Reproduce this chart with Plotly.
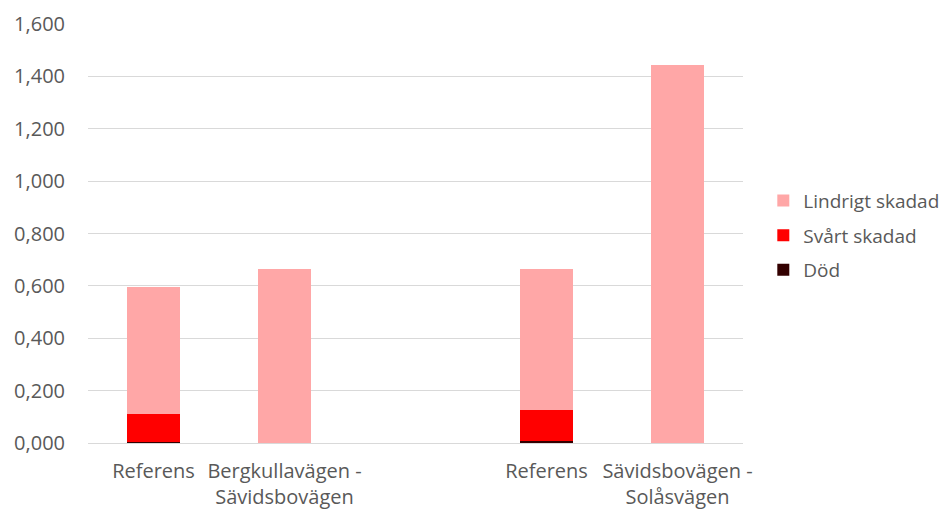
import plotly.graph_objects as go

categories = ["Referens", "Bergkullavägen -<br>Sävidsbovägen", "", "Referens", "Sävidsbovägen -<br>Solåsvägen"]
dod = [0.004, 0.0, None, 0.008, 0.0]
svart = [0.108, 0.0, None, 0.118, 0.0]
lindrigt = [0.485, 0.666, None, 0.538, 1.445]
y_ticks = [0, 0.2, 0.4, 0.6, 0.8, 1.0, 1.2, 1.4, 1.6]

x = list(range(len(categories)))
font = "Open Sans, Lato, sans-serif"
fig = go.Figure()
fig.add_trace(go.Bar(x=x, y=dod, name="Död", legendgroup="c", legendrank=3,
                     marker=dict(color="#330000", line=dict(width=0))))
fig.add_trace(go.Bar(x=x, y=svart, name="Svårt skadad", legendgroup="b", legendrank=2,
                     marker=dict(color="#FF0000", line=dict(width=0))))
fig.add_trace(go.Bar(x=x, y=lindrigt, name="Lindrigt skadad", legendgroup="a", legendrank=1,
                     marker=dict(color="#FFA7A7", line=dict(width=0))))

fig.update_layout(
    width=946, height=512,
    barmode="stack", bargap=0.595,
    separators=", ",
    paper_bgcolor="white", plot_bgcolor="white",
    margin=dict(l=88, r=203, t=24, b=69, autoexpand=False),
    font=dict(family=font, size=20, color="#595959"),
    legend=dict(traceorder="grouped", x=1.031, y=0.495, yanchor="middle", xanchor="left",
                font=dict(size=19, color="#595959"), itemwidth=30, tracegroupgap=7,
                borderwidth=0),
    xaxis=dict(tickvals=x, ticktext=categories, range=[-0.5, 4.5], showgrid=False,
               showline=False, ticks="", tickfont=dict(size=20), ticklabelstandoff=14,
               automargin=False),
    yaxis=dict(range=[0, 1.6], tickvals=y_ticks, tickformat=".3f", showgrid=True,
               gridcolor="#D9D9D9", gridwidth=1, zeroline=True, zerolinecolor="#D9D9D9",
               zerolinewidth=1, ticks="", tickfont=dict(size=20), ticklabelstandoff=22,
               automargin=False),
)
fig.write_html("out.html")
